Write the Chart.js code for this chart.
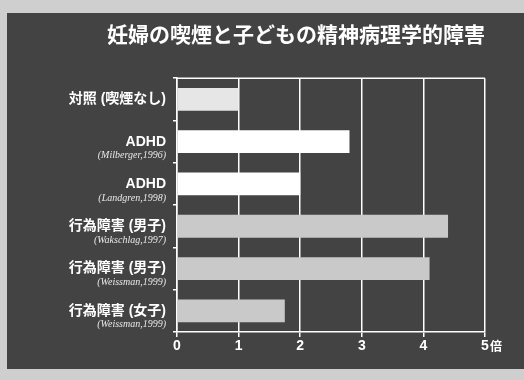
<!DOCTYPE html>
<html>
<head>
<meta charset="utf-8">
<script src="https://cdn.jsdelivr.net/npm/chart.js@4.4.0/dist/chart.umd.min.js"></script>
<style>
  html, body { margin:0; padding:0; background:#cfcfcf; }
  #wrap { width:524px; height:380px; position:relative; }
</style>
</head>
<body>
<div id="wrap"><canvas id="chart"></canvas></div>
<script>
// data
const categories = ['対照 (喫煙なし)', 'ADHD', 'ADHD', '行為障害 (男子)', '行為障害 (男子)', '行為障害 (女子)'];
const sources = ['', '(Milberger,1996)', '(Landgren,1998)', '(Wakschlag,1997)', '(Weissman,1999)', '(Weissman,1999)'];
const ratios = [1.0, 2.8, 2.0, 4.4, 4.1, 1.75];
const xTicks = [0, 1, 2, 3, 4, 5];
const unitLabel = '倍';
const titleText = '妊婦の喫煙と子どもの精神病理学的障害';

const barColors = ['#e6e6e6', '#ffffff', '#ffffff', '#c9c9c9', '#c9c9c9', '#c9c9c9'];
const FONT = '"Liberation Sans", "Noto Sans CJK JP", sans-serif';

// panel background + frame + extra texts
const decor = {
  id: 'decor',
  beforeDraw(chart){
    const c = chart.ctx;
    c.save();
    c.fillStyle = '#cfcfcf';
    c.fillRect(0, 0, chart.width, chart.height);
    c.fillStyle = '#434343';
    c.fillRect(7, 13, chart.width - 7, 356);
    c.restore();
  },
  afterDraw(chart){
    const c = chart.ctx, a = chart.chartArea;
    const xs = chart.scales.x, ys = chart.scales.y;
    c.save();
    // top frame line
    c.strokeStyle = '#ffffff';
    c.lineWidth = 1.5;
    c.beginPath();
    c.moveTo(a.left, a.top);
    c.lineTo(a.right, a.top);
    c.stroke();
    // study references under the labels
    c.fillStyle = '#e8e8e8';
    c.font = 'italic 10px "Liberation Serif", serif';
    c.textAlign = 'right';
    c.textBaseline = 'middle';
    sources.forEach((s, i) => {
      if(!s) return;
      c.fillText(s, 166, ys.getPixelForValue(i) + 14);
    });
    // unit after last tick
    const last = xTicks[xTicks.length - 1];
    c.font = 'bold 14px ' + FONT;
    const w = c.measureText(String(last)).width;
    c.font = 'bold 12px "Noto Sans CJK JP", sans-serif';
    c.textAlign = 'left';
    c.fillStyle = '#ffffff';
    c.fillText(unitLabel, xs.getPixelForValue(last) + w / 2 + 1, a.bottom + 14);
    c.restore();
  }
};

new Chart(document.getElementById('chart'), {
  type: 'bar',
  data: {
    labels: categories,
    datasets: [{
      data: ratios,
      backgroundColor: barColors,
      borderWidth: 0,
      barPercentage: 0.54,
      categoryPercentage: 1
    }]
  },
  options: {
    indexAxis: 'y',
    responsive: true,
    maintainAspectRatio: false,
    animation: false,
    layout: { padding: { left: 0, right: 39, top: 0, bottom: 0 } },
    plugins: {
      legend: { display: false },
      tooltip: { enabled: false },
      title: {
        display: true,
        text: titleText,
        align: 'end',
        color: '#ffffff',
        font: { family: '"Noto Sans CJK JP", sans-serif', size: 21, weight: 'bold' },
        padding: { top: 21, bottom: 32 }
      }
    },
    scales: {
      x: {
        min: 0,
        max: 5,
        afterBuildTicks: s => { s.ticks = xTicks.map(v => ({ value: v })); },
        afterFit: s => { s.height = 48; },
        grid: { color: '#ffffff', lineWidth: 1.5, tickLength: 5 },
        border: { color: '#ffffff', width: 1.5 },
        ticks: { color: '#ffffff', padding: 1, font: { family: FONT, size: 14, weight: 'bold' } }
      },
      y: {
        afterFit: s => { s.width = 177; },
        grid: { drawOnChartArea: false, color: '#ffffff', lineWidth: 1.5, tickLength: 4 },
        border: { color: '#ffffff', width: 1.5 },
        ticks: { color: '#ffffff', padding: 7, font: { family: FONT, size: 14, weight: 'bold' } }
      }
    }
  },
  plugins: [decor]
});
</script>
</body>
</html>
